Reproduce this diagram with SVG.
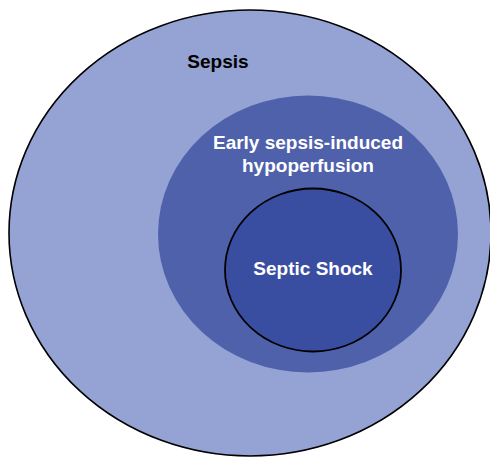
<svg xmlns="http://www.w3.org/2000/svg" width="490" height="457" viewBox="0 0 490 457">
  <style>
    .lbl { font-family: "Liberation Sans", Arial, sans-serif; font-weight: bold; font-size: 19px; text-anchor: middle; }
    .dark { fill: #000000; }
    .light { fill: #ffffff; }
  </style>
  <rect width="490" height="457" fill="#ffffff"/>
  <g id="sepsis">
    <ellipse cx="250" cy="233" rx="241" ry="223" fill="#94a3d3" stroke="#000000" stroke-width="1.6"/>
    <text class="lbl dark" x="218" y="68">Sepsis</text>
  </g>
  <g id="hypoperfusion">
    <ellipse cx="308" cy="234" rx="150" ry="138.5" fill="#4f61ab"/>
    <text class="lbl light" x="308" y="149">Early sepsis-induced</text>
    <text class="lbl light" x="308" y="172">hypoperfusion</text>
  </g>
  <g id="septic-shock">
    <ellipse cx="313" cy="270" rx="88" ry="81.5" fill="#394ea1" stroke="#000000" stroke-width="1.8"/>
    <text class="lbl light" x="313" y="275">Septic Shock</text>
  </g>
  <g id="connectors"/>
</svg>
